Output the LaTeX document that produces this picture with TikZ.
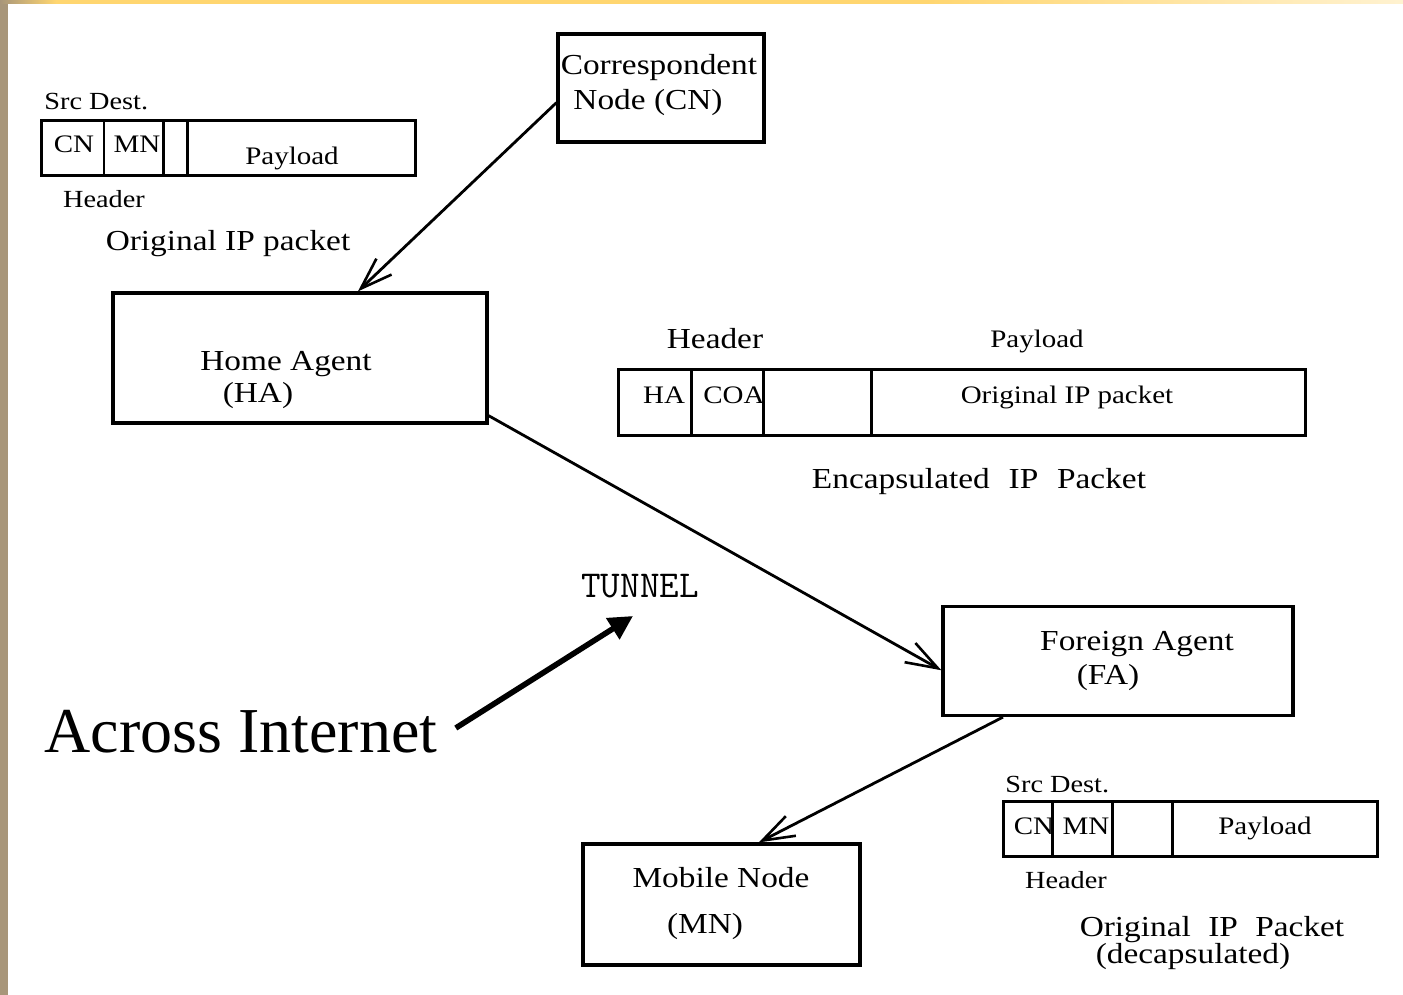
\documentclass[tikz,border=0pt]{standalone}
\usepackage{fontspec}
\setmainfont{Liberation Serif}
\newfontfamily\figfont[FakeStretch=1.15]{Liberation Serif}
\usetikzlibrary{arrows.meta,calc}

\definecolor{sidetan}{RGB}{168,150,122}
\definecolor{bandgold}{RGB}{255,214,112}
\definecolor{bandpale}{RGB}{255,242,208}
\pgfdeclarehorizontalshading{topband}{100bp}{color(0bp)=(sidetan); color(25bp)=(sidetan); color(27bp)=(bandgold); color(58bp)=(bandgold); color(75bp)=(bandpale); color(100bp)=(bandpale)}

\tikzset{
  txt/.style={inner sep=0pt, anchor=base},
  agentbox/.style={draw, line width=1.6pt, inner sep=0pt},
  boxtext/.style={txt, font=\figfont\fontsize{14.5}{17}\selectfont},
  fieldtext/.style={txt, font=\figfont\fontsize{12.6}{15}\selectfont},
  smalltext/.style={txt, font=\figfont\fontsize{12.3}{14}\selectfont},
  pktframe/.style={line width=1.5pt},
  thindiv/.style={line width=0.6pt},
  thickdiv/.style={line width=1.5pt},
  flow/.style={line width=1.4pt, -{Straight Barb[length=16pt,width=11pt,line width=1.3pt]}},
  tunarrow/.style={line width=2.8pt, -{Triangle[length=12pt,width=12pt]}},
}

\begin{document}
\begin{tikzpicture}[x=0.5pt,y=-0.5pt]
  \useasboundingbox (0,0) rectangle (1403,995);
  \fill[white] (0,0) rectangle (1403,995);
  % slide frame: side strip and top band
  \fill[sidetan] (0,0) rectangle (8,995);
  \shade[shading=topband] (0,0) rectangle (1403,4);

  % ---- agents and nodes ----
  \node[agentbox, minimum width=103pt, minimum height=54pt] (CN) at (661,88) {};
  \node[boxtext] (cnA) at (659,75) {Correspondent};
  \node[boxtext] (cnB) at (648,110) {Node (CN)};

  \node[agentbox, minimum width=187pt, minimum height=65pt] (HA) at (300,358) {};
  \node[boxtext] (haA) at (286,370) {Home Agent};
  \node[boxtext] (haB) at (258,402) {(HA)};

  \node[agentbox, minimum width=175pt, minimum height=54.5pt] (FA) at (1118,661) {};
  \node[boxtext] (faA) at (1137,650) {Foreign Agent};
  \node[boxtext] (faB) at (1108,684) {(FA)};

  \node[agentbox, minimum width=138.5pt, minimum height=60.5pt] (MN) at (721.5,904.5) {};
  \node[boxtext] (mnA) at (721,887) {Mobile Node};
  \node[boxtext] (mnB) at (705,933) {(MN)};

  % ---- original packet (at the correspondent) ----
  \draw[pktframe] (41,121) rectangle (415,175);
  \draw[thindiv] (104,121) -- (104,175);
  \draw[thickdiv] (163,121) -- (163,175);
  \draw[thickdiv] (187,121) -- (187,175);
  \node[smalltext, anchor=base west] (p1src) at (44,110) {Src Dest.};
  \node[fieldtext] (p1cn) at (74,153) {CN};
  \node[fieldtext] (p1mn) at (137,153) {MN};
  \node[fieldtext] (p1pl) at (292,164) {Payload};
  \node[smalltext] (p1hd) at (104,207) {Header};
  \node[boxtext] (p1cap) at (228,250) {Original IP packet};

  % ---- encapsulated packet ----
  \draw[pktframe] (618,369) rectangle (1305,435);
  \draw[thickdiv] (691,369) -- (691,435);
  \draw[thickdiv] (763,369) -- (763,435);
  \draw[thickdiv] (871,369) -- (871,435);
  \node[boxtext] (p2hdr) at (715,348) {Header};
  \node[fieldtext] (p2pay) at (1037,347) {Payload};
  \node[fieldtext] (p2ha) at (664,403) {HA};
  \node[fieldtext] (p2coa) at (734,403) {COA};
  \node[fieldtext] (p2in) at (1067,403) {Original IP packet};
  \node[boxtext] (p2cap) at (979,488) {Encapsulated\hspace{0.65em}IP\hspace{0.65em}Packet};

  % ---- decapsulated packet (at the foreign agent) ----
  \draw[pktframe] (1003,801) rectangle (1377,856);
  \draw[thickdiv] (1052,801) -- (1052,856);
  \draw[thickdiv] (1112,801) -- (1112,856);
  \draw[thickdiv] (1172,801) -- (1172,856);
  \node[smalltext, anchor=base west] (p3src) at (1005,792) {Src Dest.};
  \node[fieldtext] (p3cn) at (1034,834) {CN};
  \node[fieldtext] (p3mn) at (1086,834) {MN};
  \node[fieldtext] (p3pl) at (1265,834) {Payload};
  \node[smalltext] (p3hd) at (1066,888) {Header};
  \node[boxtext] (p3capA) at (1212,936) {Original\hspace{0.6em}IP\hspace{0.6em}Packet};
  \node[boxtext] (p3capB) at (1193,963) {(decapsulated)};

  % ---- tunnel labels ----
  \node[txt, font=\fontsize{19}{22}\ttfamily\addfontfeature{LetterSpace=14}] (tunnel) at (640,597) {TUNNEL};
  \node[txt, font=\fontsize{32}{36}\selectfont] (across) at (241,752) {Across Internet};
  \coordinate (tunnelTip) at (633,616);

  % ---- connectors ----
  \draw[flow] (CN.188) -- (HA.49);
  \draw[flow] (HA.343) -- (FA.183);
  \draw[flow] (FA.206) -- (MN.59);
  \draw[tunarrow] ([shift={(18,-24)}]across.base east) -- (tunnelTip);
\end{tikzpicture}
\end{document}
